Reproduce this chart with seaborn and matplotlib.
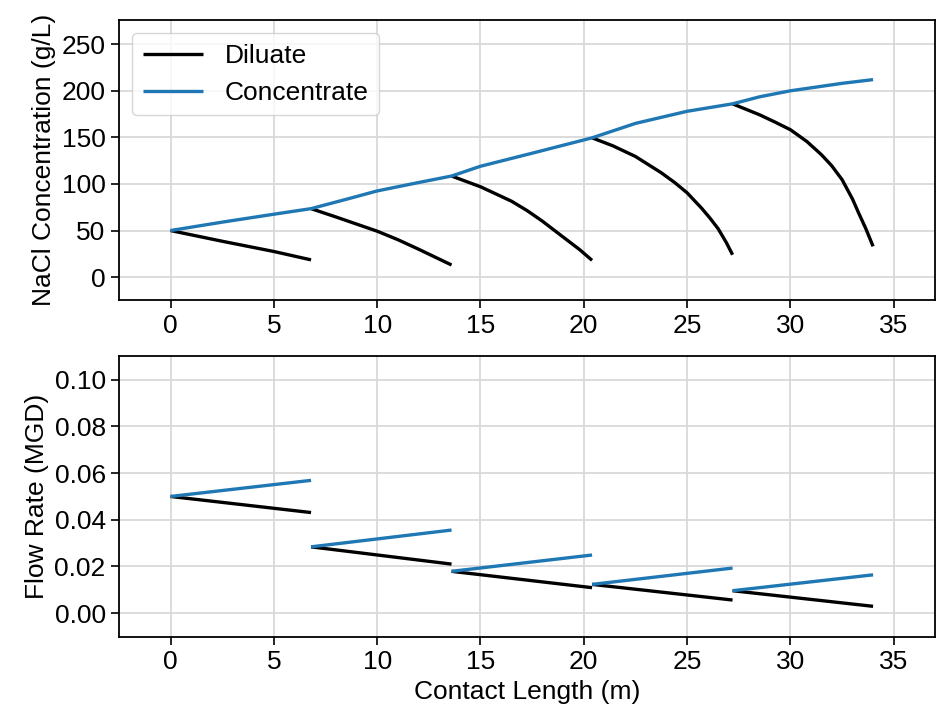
import pandas as pd
import numpy as np
import matplotlib
matplotlib.use("Agg")
import matplotlib.pyplot as plt
import seaborn as sns

########### Datos ################################
# concentracion NaCl (g/L), concentrado continuo a lo largo del tren
conc_x = [0, 2.5, 5, 6.8, 8.5, 10, 12, 13.6, 15, 17.5, 20.4, 22.5, 25, 27.2, 28.5, 30, 32.5, 34.0]
conc_y = [50, 59, 67.5, 73.5, 83.5, 92.5, 101.5, 108.5, 119, 133, 149.5, 165, 178, 186, 193.5, 200, 208, 212]

# diluado, una curva por etapa
dil_x = [[0, 2.5, 5, 6.8],
         [6.8, 8, 10, 11, 12, 13.6],
         [13.6, 15, 16.5, 17.25, 18, 19, 19.8, 20.4],
         [20.4, 21.4, 22.5, 23.75, 24.4, 25, 25.7, 26.1, 26.5, 26.9, 27.2],
         [27.2, 28.5, 29.2, 30, 30.8, 31.5, 32, 32.5, 33, 33.3, 33.65, 34.0]]
dil_y = [[50, 38.5, 27.5, 18.5],
         [73.5, 64.6, 49.3, 40.2, 30, 13],
         [108.5, 97, 81.5, 71.5, 60, 43, 29.5, 18],
         [149.5, 141, 129.5, 112, 101.5, 90.5, 74, 63.5, 52, 37, 24],
         [186, 174.3, 167, 158.2, 145.5, 131.4, 119.5, 104.6, 84, 68.9, 52, 33]]

# caudal (MGD), inicio y fin de cada etapa
etapa_ini = [0, 6.8, 13.6, 20.4, 27.2]
etapa_fin = [6.8, 13.6, 20.4, 27.2, 34.0]
q_ini = [0.0500, 0.0284, 0.0179, 0.0123, 0.0096]
q_dil_fin = [0.0431, 0.0210, 0.0109, 0.0056, 0.0029]
q_conc_fin = [0.0569, 0.0356, 0.0249, 0.0193, 0.0164]

############ Tablas largas para seaborn ############
filas = []
for x, y in zip(conc_x, conc_y):
    filas.append({'x': x, 'y': y, 'etapa': 0, 'Corriente': 'Concentrate'})
for s, (xs, ys) in enumerate(zip(dil_x, dil_y), start=1):
    for x, y in zip(xs, ys):
        filas.append({'x': x, 'y': y, 'etapa': s, 'Corriente': 'Diluate'})
conc_df = pd.DataFrame(filas)

filas = []
for s in range(5):
    for x, q in [(etapa_ini[s], q_ini[s]), (etapa_fin[s], q_dil_fin[s])]:
        filas.append({'x': x, 'y': q, 'etapa': s + 1, 'Corriente': 'Diluate'})
    for x, q in [(etapa_ini[s], q_ini[s]), (etapa_fin[s], q_conc_fin[s])]:
        filas.append({'x': x, 'y': q, 'etapa': s + 1, 'Corriente': 'Concentrate'})
flujo_df = pd.DataFrame(filas)

paleta = {'Diluate': 'black', 'Concentrate': '#1f77b4'}
orden = ['Diluate', 'Concentrate']

############ Graficas ############
sns.set_theme(style="whitegrid")
plt.rcParams['font.family'] = ['Liberation Sans', 'DejaVu Sans']
plt.rcParams.update({'axes.edgecolor': 'black', 'axes.linewidth': 1.3,
                     'grid.color': '#d9d9d9', 'grid.linewidth': 1.3,
                     'xtick.bottom': True, 'ytick.left': True,
                     'xtick.major.size': 6, 'ytick.major.size': 6,
                     'xtick.color': 'black', 'ytick.color': 'black',
                     'text.color': 'black', 'axes.labelcolor': 'black',
                     'lines.solid_capstyle': 'butt',
                     'font.size': 19})

fig, (ax1, ax2) = plt.subplots(2, 1, figsize=(9.36, 7.14), dpi=100)

sns.lineplot(data=conc_df, x='x', y='y', hue='Corriente', hue_order=orden, units='etapa',
             estimator=None, palette=paleta, lw=2.4, ax=ax1, sort=False)
sns.lineplot(data=flujo_df, x='x', y='y', hue='Corriente', hue_order=orden, units='etapa',
             estimator=None, palette=paleta, lw=2.4, ax=ax2, sort=False, legend=False)

ax1.set_xlim(-2.5, 37)
ax2.set_xlim(-2.5, 37)
ax1.set_ylim(-25, 276)
ax2.set_ylim(-0.0102, 0.110)
ax1.set_yticks([0, 50, 100, 150, 200, 250])
ax2.set_yticks([0, 0.02, 0.04, 0.06, 0.08, 0.10])
ax2.yaxis.set_major_formatter(matplotlib.ticker.FormatStrFormatter('%.2f'))
for ax in (ax1, ax2):
    ax.set_xticks([0, 5, 10, 15, 20, 25, 30, 35])
    ax.tick_params(labelsize=19, width=1.2)

ax1.set_xlabel('')
ax1.set_ylabel('NaCl Concentration (g/L)', fontsize=19)
ax2.set_ylabel('Flow Rate (MGD)', fontsize=19)
ax2.set_xlabel('Contact Length (m)', fontsize=19)

leg = ax1.legend(loc='upper left', fontsize=19, handlelength=2.3, title=None)
leg.get_frame().set_edgecolor('#cccccc')

plt.subplots_adjust(left=0.127, right=0.999, top=0.972, bottom=0.108, hspace=0.2)
plt.savefig("out.png")
